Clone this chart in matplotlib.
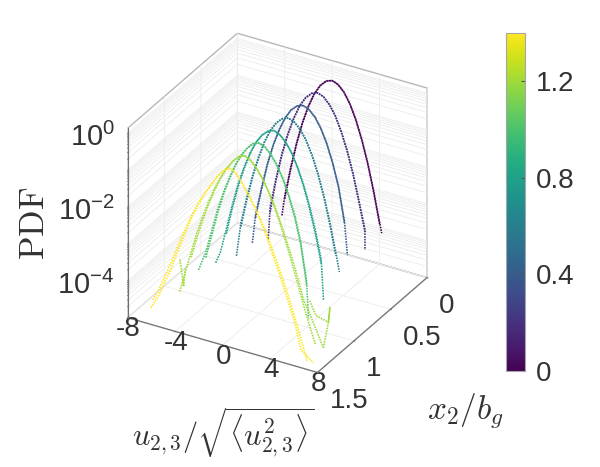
import numpy as np
import matplotlib
matplotlib.use("Agg")
import matplotlib.pyplot as plt
from matplotlib import cm
from matplotlib.colors import Normalize
from matplotlib.cm import ScalarMappable

plt.rcParams['font.family'] = ['Liberation Sans', 'DejaVu Sans']
plt.rcParams['axes.unicode_minus'] = False
plt.rcParams['mathtext.fontset'] = 'custom'
plt.rcParams['mathtext.rm'] = 'Liberation Sans'

n = np.nan
# normalised velocity bins
u_bins = [-6.5, -6, -5.5, -5, -4.5, -4, -3.5, -3, -2.5, -2, -1.5, -1, -0.5, 0,
          0.5, 1, 1.5, 2, 2.5, 3, 3.5, 4, 4.5, 5, 5.5, 6, 6.5]
stations = [0, 0.2, 0.4, 0.6, 0.8, 1.0, 1.2, 1.4]

# log10(PDF) of u2 and u3 at each station
u2_logpdf = [
    [n, n, n, n, n, -3.9, -3.08, -2.36, -1.76, -1.27, -.89, -.62, -.46, -.4, -.46, -.62, -.89, -1.27, -1.76, -2.35, -3.06, -3.87, n, n, n, n, n],
    [n, n, n, n, n, -3.85, -3.03, -2.3, -1.72, -1.25, -.87, -.61, -.45, -.39, -.45, -.61, -.87, -1.25, -1.72, -2.3, -3.0, -3.72, n, n, n, n, n],
    [n, n, n, n, n, -3.72, -2.95, -2.24, -1.68, -1.22, -.86, -.6, -.45, -.39, -.45, -.6, -.86, -1.22, -1.7, -2.3, -3.2, n, n, n, n, n, n],
    [n, n, n, n, n, -3.6, -2.85, -2.2, -1.66, -1.2, -.85, -.6, -.45, -.39, -.45, -.6, -.85, -1.2, -1.66, -2.22, -2.88, -3.65, n, n, n, n, n],
    [n, n, n, n, -4.1, -3.42, -2.72, -2.1, -1.6, -1.18, -.84, -.6, -.45, -.38, -.45, -.6, -.84, -1.18, -1.6, -2.12, -2.74, -3.5, n, n, n, n, n],
    [n, n, n, n, -3.75, -3.12, -2.5, -1.98, -1.54, -1.15, -.84, -.6, -.44, -.38, -.44, -.6, -.84, -1.15, -1.56, -2.05, -2.72, -3.75, n, n, n, n, n],
    [n, n, n, -4.0, -3.4, -2.82, -2.32, -1.87, -1.48, -1.14, -.85, -.62, -.45, -.38, -.45, -.62, -.85, -1.14, -1.48, -1.87, -2.32, -2.78, -3.28, -3.85, -4.15, n, n],
    [-4.68, -4.38, -3.98, -3.6, -3.12, -2.68, -2.24, -1.84, -1.5, -1.2, -.93, -.67, -.47, -.38, -.47, -.67, -.93, -1.2, -1.52, -1.88, -2.3, -2.72, -3.15, -3.62, -4.1, -4.75, n],
]
u3_logpdf = [
    [n, n, n, n, n, -3.97, -3.13, -2.4, -1.78, -1.29, -.9, -.63, -.46, -.4, -.46, -.63, -.9, -1.29, -1.78, -2.38, -3.1, -3.92, n, n, n, n, n],
    [n, n, n, n, n, -4.0, -3.08, -2.35, -1.75, -1.27, -.88, -.62, -.45, -.39, -.45, -.62, -.88, -1.27, -1.75, -2.33, -3.04, -3.8, n, n, n, n, n],
    [n, n, n, n, n, -3.8, -3.0, -2.28, -1.7, -1.24, -.87, -.61, -.45, -.39, -.45, -.61, -.87, -1.24, -1.72, -2.33, -3.26, n, n, n, n, n, n],
    [n, n, n, n, n, -3.7, -2.93, -2.25, -1.69, -1.22, -.86, -.61, -.45, -.39, -.45, -.61, -.86, -1.22, -1.69, -2.26, -2.95, -3.75, n, n, n, n, n],
    [n, n, n, n, n, -3.55, -2.82, -2.18, -1.65, -1.2, -.85, -.61, -.45, -.38, -.45, -.61, -.85, -1.2, -1.65, -2.2, -2.85, -3.62, n, n, n, n, n],
    [n, n, n, n, -3.9, -3.25, -2.6, -2.05, -1.58, -1.17, -.85, -.61, -.45, -.38, -.45, -.61, -.85, -1.17, -1.6, -2.12, -2.8, -3.85, n, n, n, n, n],
    [n, n, n, n, -3.55, -2.95, -2.42, -1.95, -1.53, -1.17, -.87, -.63, -.46, -.38, -.46, -.63, -.87, -1.17, -1.53, -1.95, -2.42, -2.92, -3.45, -4.0, -4.5, -4.95, n],
    [-4.55, -4.22, -3.82, -3.42, -2.98, -2.56, -2.16, -1.78, -1.47, -1.18, -.92, -.66, -.47, -.38, -.47, -.66, -.92, -1.18, -1.47, -1.8, -2.18, -2.58, -3.0, -3.45, -3.95, -4.45, -5.0],
]

# last point of each strand, where it stops between bins
left_end_u = [-4.24, -4.16, -4.27, -4.38, -4.9, -5.11, -5.47, -6.68]
left_end_z = [-4.45, -4.73, -4.51, -4.53, -4.42, -4.29, -4.57, -4.78]
right_end_u = [4.18, 4.0, 3.75, 4.3, 4.2, 4.16, 6.65, 7.05]
right_end_z = [-4.15, -4.28, -4.1, -4.16, -4.6, -4.75, -4.97, -5.0]

# noisy outer tail of the x2/bg=1.2 station
tail_left_u = [-5.0, -5.14, -5.47]
tail_left_z = [-3.9, -4.4, -3.67]
tail_right_u = [5.5, 6.0, 7.07, 7.2, 7.07, 6.65]
tail_right_z = [-3.8, -4.15, -4.24, -3.83, -4.24, -4.97]

x_ticks = [-8, -4, 0, 4, 8]
y_ticks = [0, 0.5, 1, 1.5]
y_labels = ['0', '0.5', '1', '1.5']
z_majors = [-4, -2, 0]
cbar_ticks = [0, 0.4, 0.8, 1.2]
cbar_labels = ['0', '0.4', '0.8', '1.2']

text_col = '#333333'
edge_col = '#707070'

fig = plt.figure(figsize=(6, 4.67), dpi=100)
ax = fig.add_axes([0.011, 0.011, 0.88, 1.08], projection='3d', computed_zorder=False)
ax.set_proj_type('ortho')
ax.view_init(elev=30, azim=-60)
ax.set_box_aspect((1, 1, 1), zoom=0.73)
ax.patch.set_alpha(0)

norm = Normalize(0, 1.4)
dots = (0, (1, 0.7))
for i, s in enumerate(stations):
    c = cm.viridis(norm(s))
    for j, vals in enumerate((u2_logpdf[i], u3_logpdf[i])):
        u = np.array(u_bins)
        z = np.array(vals)
        keep = ~np.isnan(z)
        u = u[keep]
        z = z[keep]
        if j == 0:
            u = np.r_[left_end_u[i], u, right_end_u[i]]
            z = np.r_[left_end_z[i], z, right_end_z[i]]
        ax.plot(u, np.full(len(u), s), z, color=c, lw=1.15, ls=dots)
c = cm.viridis(norm(1.2))
ax.plot(tail_left_u, [1.2] * len(tail_left_u), tail_left_z, color=c, lw=1.15, ls=dots)
ax.plot(tail_right_u, [1.2] * len(tail_right_u), tail_right_z, color=c, lw=1.15, ls=dots)

ax.set_xlim(-8, 8)
ax.set_ylim(1.5, 0)
ax.set_zlim(-5, 0.14)

z_ticks = []
for d in range(-5, 0):
    for m in range(1, 10):
        z_ticks.append(d + np.log10(m))
z_ticks.append(0)

ax.set_xticks(x_ticks)
ax.set_yticks(y_ticks)
ax.set_yticklabels(y_labels)
ax.set_zticks(z_ticks)
ax.set_zticklabels([''] * len(z_ticks))

for axis in (ax.xaxis, ax.yaxis, ax.zaxis):
    axis.pane.set_facecolor('white')
    axis.pane.set_edgecolor(edge_col)
    axis.pane.set_linewidth(1.0)
    axis.line.set_color(edge_col)
    axis._axinfo['grid'].update(color='#ececec', linewidth=0.6)
    axis._axinfo['tick'].update(inward_factor=0.05, outward_factor=0.0)

ax.zaxis.set_ticks_position('upper')

ax.tick_params(axis='both', labelsize=20, labelcolor=text_col, color=edge_col)
ax.tick_params(axis='x', pad=-9)
ax.tick_params(axis='y', pad=4)
for lab in ax.get_yticklabels():
    lab.set_ha('left')

# decade labels sit left of the z edge, baseline just under the tick
for z in z_majors:
    ax.text(-9.1, 1.5, z - 0.46, r'$\mathrm{10^{%d}}$' % z, fontsize=21, color=text_col,
            ha='right', va='baseline')

# colour bar
cax = fig.add_axes([506 / 600, 1 - 371 / 467, 19 / 600, 338 / 467])
cb = fig.colorbar(ScalarMappable(norm, 'viridis'), cax=cax)
cb.set_ticks(cbar_ticks)
cb.set_ticklabels(cbar_labels)
cb.ax.tick_params(labelsize=20, labelcolor=text_col, length=3, width=0.8, direction='in',
                  color='#555555', pad=8)
cb.outline.set_edgecolor('#a6a6a6')

fig.text(34 / 600, 1 - 223 / 467, r'$\mathrm{PDF}$', rotation=90, fontsize=25, color=text_col,
         ha='center', va='center', math_fontfamily='cm')
fig.text(223 / 600, 1 - 433 / 467, r'$u_{2,3}/\sqrt{\langle u_{2,3}^2\rangle}$', fontsize=22,
         color=text_col, ha='center', va='center', math_fontfamily='cm')
fig.text(465 / 600, 1 - 411 / 467, r'$x_2/b_g$', fontsize=24, color=text_col,
         ha='center', va='center', math_fontfamily='cm')

fig.savefig('out.png', dpi=100)
